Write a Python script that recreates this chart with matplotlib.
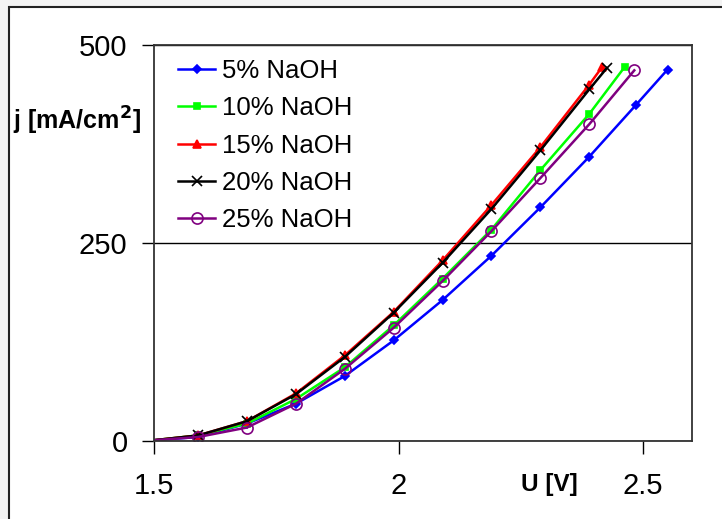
import matplotlib
matplotlib.use("Agg")
import matplotlib.pyplot as plt
from matplotlib.patches import Rectangle

plt.rcParams['font.family'] = ['Liberation Sans', 'DejaVu Sans']

labels = ["5% NaOH", "10% NaOH", "15% NaOH", "20% NaOH", "25% NaOH"]
colors = ["#0000ff", "#00ff00", "#ff0000", "#000000", "#800080"]
markers = ["D", "s", "^", "x", "o"]
msizes = [4, 5, 6, 7, 8]

u5 = [1.5, 1.59, 1.69, 1.79, 1.89, 1.99, 2.09, 2.19, 2.29, 2.39, 2.485, 2.55]
j5 = [1, 5, 22, 47, 82, 127, 178, 234, 295, 359, 424, 469]

u10 = [1.5, 1.59, 1.69, 1.79, 1.89, 1.99, 2.09, 2.19, 2.29, 2.39, 2.462]
j10 = [1, 7, 22, 53, 93, 146, 205, 267, 342, 413, 472]

u15 = [1.5, 1.59, 1.69, 1.79, 1.89, 1.99, 2.09, 2.19, 2.29, 2.39, 2.416]
j15 = [1, 7, 25, 60, 108, 163, 228, 298, 371, 450, 472]

u20 = [1.5, 1.59, 1.69, 1.79, 1.89, 1.99, 2.09, 2.19, 2.29, 2.39, 2.426]
j20 = [1, 7, 25, 59, 106, 162, 225, 293, 367, 444, 471]

u25 = [1.5, 1.59, 1.69, 1.79, 1.89, 1.99, 2.09, 2.19, 2.29, 2.39, 2.482]
j25 = [1, 5, 17, 47, 91, 143, 202, 265, 332, 400, 468]

series = [(u5, j5), (u10, j10), (u15, j15), (u20, j20), (u25, j25)]

xticks = [1.5, 2, 2.5]
xticklabels = ["1.5", "2", "2.5"]
yticks = [0, 250, 500]

W, H = 722, 519
fig = plt.figure(figsize=(W / 100, H / 100), dpi=100)
fig.patch.set_facecolor("#f3f3f3")
bg = fig.add_axes([0, 0, 1, 1], zorder=-5)
bg.set_axis_off()
bg.set_xlim(0, W)
bg.set_ylim(H, 0)
bg.add_patch(Rectangle((9, 7), W, H, facecolor="white", edgecolor="#222222", linewidth=1.5))

ax = fig.add_axes([154 / W, 1 - 441 / H, (692 - 154) / W, (441 - 45) / H], zorder=1)
ax.set_facecolor("white")

for (u, j), lab, c, m, ms in zip(series, labels, colors, markers, msizes):
    mfc = "none" if m == "o" else c
    ax.plot(u, j, color=c, linewidth=1.8, marker=m, markersize=ms,
            markerfacecolor=mfc, markeredgecolor=c, markeredgewidth=1.2,
            markevery=slice(1, None), label=lab)

ax.set_xlim(1.5, 2.6)
ax.set_ylim(0, 500)
ax.set_xticks(xticks)
ax.set_xticklabels(xticklabels)
ax.set_yticks(yticks)
ax.yaxis.grid(True, color="black", linewidth=1)
ax.set_axisbelow(True)
ax.tick_params(axis="both", direction="out", length=9, width=1, labelsize=21)
ax.tick_params(axis="x", pad=13)
ax.tick_params(axis="y", pad=10)
for s in ax.spines.values():
    s.set_color("#333333")
    s.set_linewidth(1.3)

leg = ax.legend(loc="upper left", bbox_to_anchor=(0.045, 0.965), frameon=False,
                fontsize=18.5, handlelength=1.45, handletextpad=0.25,
                labelspacing=0.52, borderpad=0, borderaxespad=0)

fig.text(77 / W, 1 - 121 / H, "j [mA/cm$^\\mathbf{2}$]", ha="center", va="center",
         fontsize=18, fontweight="bold")
fig.text(549 / W, 1 - 484 / H, "U [V]", ha="center", va="center",
         fontsize=17.5, fontweight="bold")

fig.savefig("out.png", dpi=100, facecolor=fig.get_facecolor())
